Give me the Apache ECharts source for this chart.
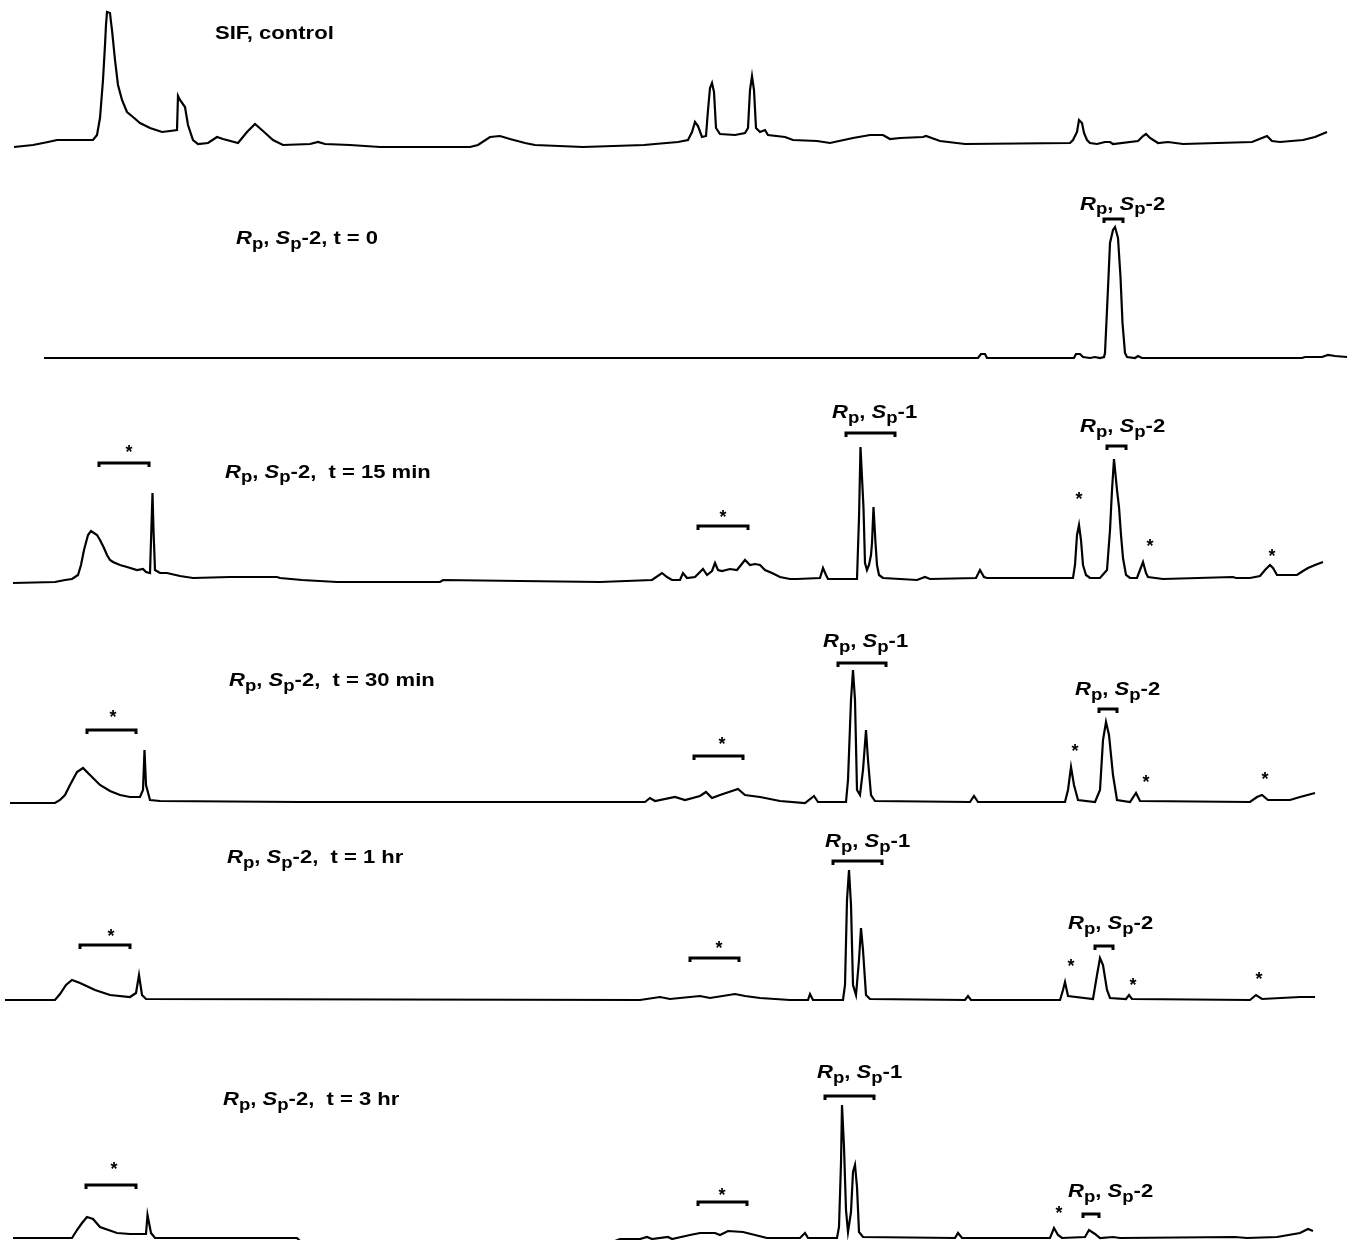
<!DOCTYPE html>
<html>
<head>
<meta charset="utf-8">
<script src="https://cdn.jsdelivr.net/npm/echarts@6/dist/echarts.min.js"></script>
<style>
  html, body { margin: 0; padding: 0; background: #fff; }
  #chart { width: 1351px; height: 1240px; }
</style>
</head>
<body>
<div id="chart"></div>
<script>
// HPLC traces of Rp,Sp-2 incubated in simulated intestinal fluid (SIF).
// Each point: [retention time (chart units), detector signal (mAU-like units)].

const sifControl = [[14,3],[33,5],[48,8],[57,10],[93,10],[97,15],[100,32],[103,70],[105,105],[106,125],[107,138],[109,138],[110,137],[111,128],[112,120],[115,90],[118,65],[122,50],[127,38],[133,33],[140,27],[150,22],[162,18],[170,19],[177,20],[178,54],[180,50],[185,43],[188,25],[193,10],[198,6],[208,7],[217,13],[223,11],[238,7],[247,18],[255,26],[263,19],[273,10],[283,5],[310,6],[318,8],[325,6],[350,5],[380,3],[470,3],[478,5],[490,13],[500,14],[510,11],[525,7],[535,5],[583,3],[644,5],[655,6],[678,8],[688,10],[692,18],[695,28],[698,24],[702,13],[706,14],[708,40],[710,62],[712,67],[714,58],[716,22],[720,16],[735,15],[745,17],[748,22],[750,60],[752,74],[754,60],[756,22],[760,18],[765,20],[768,15],[785,13],[793,10],[817,9],[830,7],[853,12],[870,15],[883,15],[890,11],[900,12],[923,13],[926,14],[940,9],[965,6],[1070,7],[1073,10],[1077,18],[1079,30],[1080,32],[1082,27],[1084,17],[1087,10],[1090,7],[1097,6],[1105,8],[1110,8],[1113,6],[1138,9],[1143,14],[1146,16],[1150,12],[1158,7],[1168,8],[1183,6],[1252,8],[1262,12],[1267,14],[1272,9],[1280,8],[1303,10],[1315,13],[1327,18]];

const run0 = [[44,2],[978,2],[981,6],[985,6],[987,2],[1074,2],[1076,6],[1080,6],[1083,3],[1090,2],[1095,3],[1100,2],[1104,3],[1105,7],[1107,50],[1108.5,83],[1110,117],[1113,130],[1115,133],[1117,133],[1118,122],[1120.5,83],[1122.5,37],[1125,7],[1127,3],[1135,2],[1138,4],[1142,2],[1234,2],[1236,4],[1238,2],[1257,2],[1259,4],[1265,2],[1302,2],[1305,3],[1322,3],[1328,5],[1335,4],[1347,3]];

const run15 = [[13,2],[55,3],[65,5],[72,6],[78,10],[81,20],[84,35],[88,50],[91,54],[93,55],[97,50],[100,45],[104,37],[107,30],[110,25],[113,23],[120,20],[127,18],[137,15],[143,16],[146,13],[150,12],[151.5,60],[152.5,92],[153.5,55],[155,15],[157,13],[160,12],[167,12],[180,9],[193,7],[230,8],[277,8],[280,7],[302,5],[337,3],[440,3],[443,5],[520,4],[600,3],[652,5],[662,12],[667,8],[672,5],[680,5],[683,12],[687,7],[695,8],[700,13],[703,16],[707,10],[712,14],[715,22],[718,15],[722,14],[730,16],[737,15],[745,25],[750,20],[755,21],[760,20],[765,15],[772,12],[780,8],[790,6],[797,6],[820,7],[823,17],[826,10],[828,6],[857,6],[859,67],[860.5,138],[862,138],[863.5,77],[865,22],[867,15],[869,20],[871,30],[872,42],[873.5,78],[875.5,42],[877,20],[879,10],[883,7],[917,5],[925,8],[930,6],[976,7],[980,15],[984,8],[987,7],[1073,7],[1075,20],[1077,50],[1079,60],[1081,45],[1083,20],[1086,10],[1090,7],[1100,7],[1107,15],[1110,55],[1112,95],[1114,126],[1115,126],[1117,95],[1119,78],[1121,50],[1123,27],[1126,10],[1130,7],[1137,7],[1140,15],[1143,23],[1146,12],[1148,8],[1163,6],[1233,8],[1236,7],[1250,7],[1260,9],[1265,15],[1270,20],[1273,17],[1277,10],[1297,10],[1303,14],[1308,17],[1315,20],[1323,23]];

const run30 = [[10,2],[55,2],[60,5],[65,10],[70,20],[77,33],[83,37],[90,30],[100,20],[110,14],[120,10],[130,8],[140,8],[143,15],[144.5,55],[146,20],[150,5],[160,4],[300,3],[645,3],[650,7],[655,4],[675,8],[685,5],[700,9],[706,13],[712,7],[720,10],[738,16],[745,10],[760,8],[780,4],[805,2],[814,9],[818,3],[846,3],[848,25],[851,105],[853,135],[855,105],[857,15],[860,10],[863,35],[866,75],[868,45],[871,10],[875,4],[970,3],[974,9],[978,3],[1065,3],[1068,15],[1071,38],[1074,20],[1078,5],[1095,3],[1100,15],[1103,65],[1106,83],[1109,70],[1113,30],[1117,5],[1130,3],[1136,12],[1140,4],[1250,3],[1257,8],[1262,10],[1268,5],[1290,5],[1300,8],[1315,12]];

const run60 = [[5,2],[55,2],[60,8],[66,17],[72,22],[80,19],[95,12],[110,7],[130,5],[136,9],[139,27],[142,7],[146,3],[640,2],[660,5],[670,3],[700,6],[710,4],[735,8],[745,6],[760,4],[790,2],[808,2],[810,8],[813,2],[843,2],[845,17],[847,102],[849,132],[851,97],[853,17],[856,7],[859,42],[861,74],[863,52],[866,7],[870,3],[965,2],[968,6],[971,2],[1060,2],[1063,12],[1065,20],[1068,6],[1093,3],[1097,27],[1100,44],[1103,37],[1107,12],[1110,4],[1126,3],[1129,7],[1132,3],[1250,2],[1256,7],[1262,3],[1300,5],[1315,5]];

const run180 = [[13,2],[72,2],[77,10],[82,17],[87,23],[93,21],[100,13],[117,7],[130,6],[146,6],[147.5,25],[149.5,25],[151,7],[155,2],[297,2],[300,-1],[615,-1],[620,1],[640,1],[647,3],[652,1],[668,3],[672,1],[690,5],[700,7],[715,7],[720,5],[728,9],[743,8],[755,5],[767,2],[800,2],[805,7],[808,2],[837,2],[839,13],[841,77],[842,135],[843,135],[844,93],[846,30],[848,8],[851,28],[853,68],[855,75],[857,53],[859,8],[863,3],[955,2],[958,7],[962,2],[1050,2],[1054,12],[1058,5],[1062,2],[1085,3],[1089,10],[1095,6],[1100,2],[1113,3],[1120,2],[1235,3],[1247,2],[1277,3],[1300,7],[1308,11],[1313,9]];

// Annotations, in the same [time, signal] units as the trace they belong to
const titles = ['SIF, control', '-2, t = 0', '-2,  t = 15 min', '-2,  t = 30 min', '-2,  t = 1 hr', '-2,  t = 3 hr'];
const titleAt = [[215,116],[236,121],[225,112.5],[229,124],[227,144],[223,140]];
const peakLabels = [
  [],
  [['-2',1080,155.5]],
  [['-1',832,172],['-2',1080,158]],
  [['-1',823,163],['-2',1075,115]],
  [['-1',825,160],['-2',1068,78]],
  [['-1',817,167],['-2',1068,48]]
];
const brackets = [
  [],
  [[1104,1123,141]],
  [[99,149,122],[698,748,59],[846,895,152],[1107,1126,139]],
  [[87,136,75],[694,743,49],[838,886,142],[1099,1117,96]],
  [[80,130,57],[690,739,44],[833,882,141],[1095,1113,56]],
  [[86,136,55],[698,747,38],[825,874,144],[1083,1099,26]]
];
const stars = [
  [],
  [],
  [[129,132],[723,67],[1079,85],[1150,38],[1272,28]],
  [[113,87],[722,60],[1075,53],[1146,22],[1265,25]],
  [[111,65],[719,53],[1071,35],[1133,16],[1259,22]],
  [[114,70],[722,44],[1059,26]]
];

// Layout: pixel baseline of each stacked panel
const traces = [sifControl, run0, run15, run30, run60, run180];
const baselines = [150, 360, 585, 805, 1002, 1240];
const PANEL_H = 150;
const TICK = 4;
const STRETCH = 1.16;
const FONT = '"Liberation Sans", Arial, sans-serif';

const grid = [], xAxis = [], yAxis = [], series = [];
traces.forEach((data, i) => {
  grid.push({ left: 0, right: 0, bottom: 1240 - baselines[i], height: PANEL_H });
  xAxis.push({ type: 'value', gridIndex: i, min: 0, max: 1351, show: false });
  yAxis.push({ type: 'value', gridIndex: i, min: 0, max: PANEL_H, show: false });
  series.push({
    type: 'line', xAxisIndex: i, yAxisIndex: i, data: data,
    symbol: 'none', clip: false, silent: true,
    lineStyle: { color: '#000', width: 2.2, join: 'miter' }
  });
  brackets[i].forEach(b => {
    series.push({
      type: 'line', xAxisIndex: i, yAxisIndex: i, symbol: 'none', clip: false, silent: true,
      data: [[b[0], b[2] - TICK], [b[0], b[2]], [b[1], b[2]], [b[1], b[2] - TICK]],
      lineStyle: { color: '#000', width: 3, join: 'miter' }
    });
  });
});

const chart = echarts.init(document.getElementById('chart'));
chart.setOption({
  animation: false,
  backgroundColor: '#fff',
  grid, xAxis, yAxis, series
});

// Rich text: n = normal bold, i = bold italic, s = subscript
const rich = {
  n: { fontSize: 19, fontWeight: 'bold', fontFamily: FONT, fill: '#000', verticalAlign: 'middle' },
  i: { fontSize: 19, fontWeight: 'bold', fontStyle: 'italic', fontFamily: FONT, fill: '#000', verticalAlign: 'middle' },
  s: { fontSize: 16, fontWeight: 'bold', fontFamily: FONT, fill: '#000', verticalAlign: 'middle', padding: [11, 0, 0, 0] }
};
const rpsp = suffix => '{i|R}{s|p}{n|, }{i|S}{s|p}{n|' + suffix + '}';

function label(text, p, align) {
  return {
    type: 'text', x: p[0], y: p[1], scaleX: STRETCH, silent: true,
    style: { text: text, rich: rich, align: align || 'left', verticalAlign: 'middle', fill: '#000',
             fontSize: 19, fontWeight: 'bold', fontFamily: FONT }
  };
}

const graphic = [];
traces.forEach((_, i) => {
  const toPx = v => chart.convertToPixel({ gridIndex: i }, v);
  const t = i === 0 ? '{n|' + titles[0] + '}' : rpsp(titles[i]);
  graphic.push(label(t, toPx(titleAt[i])));
  peakLabels[i].forEach(l => graphic.push(label(rpsp(l[0]), toPx([l[1], l[2]]))));
  stars[i].forEach(s => {
    const p = toPx(s);
    graphic.push({
      type: 'text', x: p[0], y: p[1], silent: true,
      style: { text: '*', align: 'center', verticalAlign: 'middle', fill: '#000',
               fontSize: 18, fontWeight: 'bold', fontFamily: FONT }
    });
  });
});
chart.setOption({ graphic: graphic });
</script>
</body>
</html>
